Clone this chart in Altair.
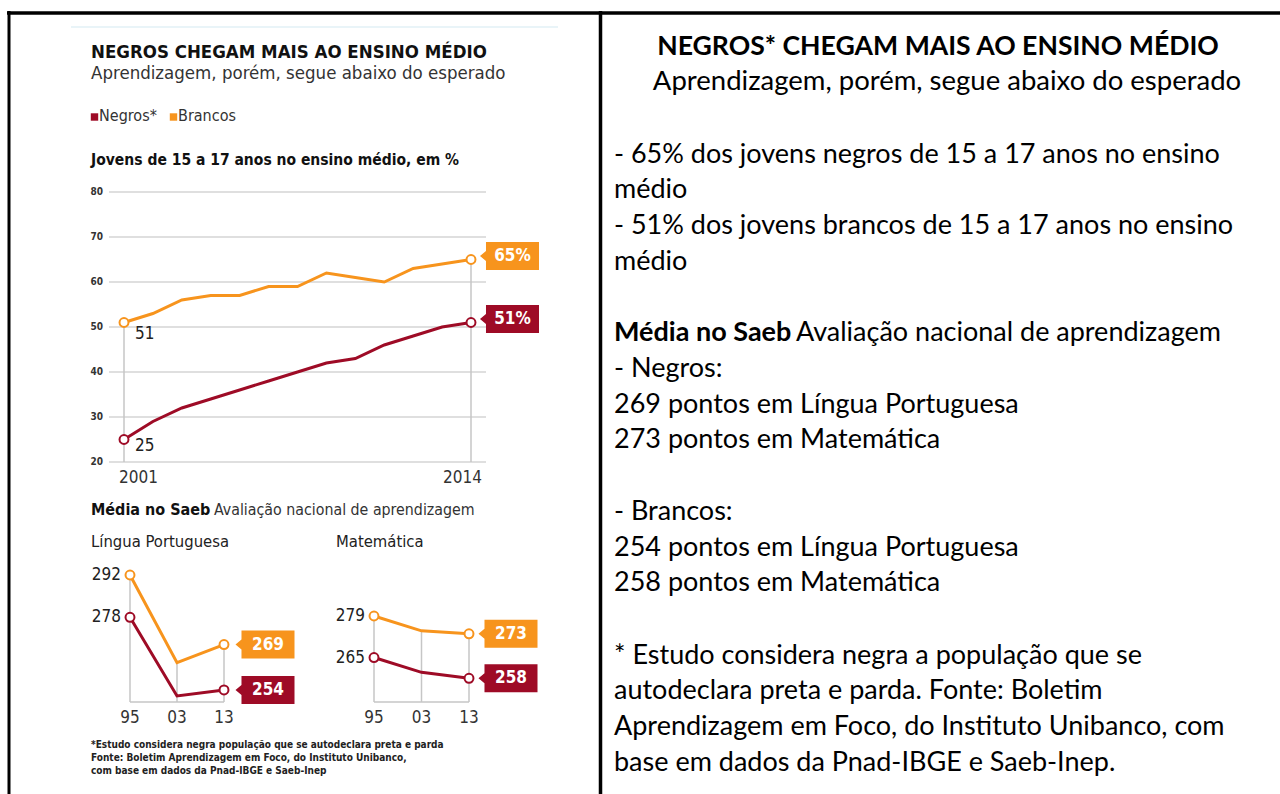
import altair as alt
import pandas as pd

# ---------------- data ----------------
years = ["2001", "2002", "2003", "2004", "2005", "2006", "2007",
         "2008", "2009", "2011", "2012", "2013", "2014"]
brancos_pct = [51, 53, 56, 57, 57, 59, 59, 62, 61, 60, 63, 64, 65]
negros_pct = [25, 29, 32, 34, 36, 38, 40, 42, 43, 46, 48, 50, 51]
pct_ticks = [20, 30, 40, 50, 60, 70, 80]

saeb_years = ["95", "03", "13"]
lp_brancos = [292, 263, 269]
lp_negros = [278, 252, 254]
mat_brancos = [279, 274, 273]
mat_negros = [265, 260, 258]
saeb_base = 250

groups = ["Negros", "Brancos"]
legend_labels = ["Negros*", "Brancos"]

left_title = "NEGROS CHEGAM MAIS AO ENSINO MÉDIO"
left_subtitle = "Aprendizagem, porém, segue abaixo do esperado"
top_chart_title = "Jovens de 15 a 17 anos no ensino médio, em %"
saeb_title = "Média no Saeb"
saeb_subtitle = "Avaliação nacional de aprendizagem"
lp_title = "Língua Portuguesa"
mat_title = "Matemática"
footnote = [
    "*Estudo considera negra população que se autodeclara preta e parda",
    "Fonte:  Boletim Aprendizagem em Foco, do Instituto Unibanco,",
    "com base em dados da Pnad-IBGE e Saeb-Inep",
]

right_title = "NEGROS* CHEGAM MAIS AO ENSINO MÉDIO"
right_subtitle = "Aprendizagem, porém, segue abaixo do esperado"
right_lines = [
    "- 65% dos jovens negros de 15 a 17 anos no ensino",
    "médio",
    "- 51% dos jovens brancos de 15 a 17 anos no ensino",
    "médio",
    None,  # bold/regular mixed line
    "- Negros:",
    "269 pontos em Língua Portuguesa",
    "273 pontos em Matemática",
    "- Brancos:",
    "254 pontos em Língua Portuguesa",
    "258 pontos em Matemática",
    "* Estudo considera negra a população que se",
    "autodeclara preta e parda. Fonte: Boletim",
    "Aprendizagem em Foco, do Instituto Unibanco, com",
    "base em dados da Pnad-IBGE e Saeb-Inep.",
]
right_y = [155, 190, 226, 262, 333, 369, 405, 440, 512, 548, 583, 656, 691, 727, 763]

# ---------------- styles ----------------
ORANGE = "#F7941D"
RED = "#9E0B26"
GRID = "#d4d4d4"
VGRAY = "#c6c6c6"
TXT = "#222222"
LFONT = "Liberation Sans Narrow, DejaVu Sans Condensed, Roboto, sans-serif"
RFONT = "Lato, sans-serif"
RSIZE = 27

color_scale = alt.Scale(domain=groups, range=[RED, ORANGE])
BOX = "M-1,0L-0.797,-0.17L-0.797,-0.475L1,-0.475L1,0.475L-0.797,0.475L-0.797,0.17Z"

layers = []


def one():
    return pd.DataFrame({"k": [0]})


def text(t, x, y, size, bold=False, align="left", color=TXT, font=LFONT):
    return alt.Chart(pd.DataFrame({"t": [t]})).mark_text(
        align=align, baseline="middle", fontSize=size,
        fontWeight="bold" if bold else "normal", font=font, color=color
    ).encode(x=alt.value(x), y=alt.value(y), text="t:N")


# ---------------- frame ----------------
layers.append(alt.Chart(one()).mark_rule(color="black", strokeWidth=3.5).encode(
    x=alt.value(7), x2=alt.value(1280), y=alt.value(13)))
layers.append(alt.Chart(one()).mark_rule(color="black", strokeWidth=3).encode(
    x=alt.value(9), y=alt.value(11), y2=alt.value(794)))
layers.append(alt.Chart(one()).mark_rule(color="black", strokeWidth=3.5).encode(
    x=alt.value(600.5), y=alt.value(11), y2=alt.value(794)))
layers.append(alt.Chart(one()).mark_rule(color="#d3eaf2", strokeWidth=1.2).encode(
    x=alt.value(71), x2=alt.value(558), y=alt.value(27)))

# ---------------- left headings ----------------
layers.append(text(left_title, 91, 52, 18.5, bold=True, color="#111111"))
layers.append(text(left_subtitle, 91, 73, 18.5, color="#333333"))

for i, (g, lab) in enumerate(zip(groups, legend_labels)):
    xs = [91, 170][i]
    layers.append(alt.Chart(pd.DataFrame({"g": [g]})).mark_square(size=55, opacity=1).encode(
        x=alt.value(xs + 3.5), y=alt.value(117),
        color=alt.Color("g:N", scale=color_scale, legend=None)))
    layers.append(text(lab, xs + 8, 116, 16, color="#333333"))

layers.append(text(top_chart_title, 91, 160, 15.5, bold=True, color="#111111"))

# ---------------- top chart ----------------
top_x = alt.Scale(type="point", domain=years, range=[124, 471], padding=0)
top_y = alt.Scale(domain=[20, 80], range=[462, 192], nice=False, zero=False)

ticks_df = pd.DataFrame({"v": pct_ticks})
layers.append(alt.Chart(ticks_df).mark_rule(color=GRID, strokeWidth=1.5).encode(
    y=alt.Y("v:Q", scale=top_y, axis=None), x=alt.value(109), x2=alt.value(486)))
layers.append(alt.Chart(ticks_df).mark_text(
    align="right", baseline="middle", fontSize=10, fontWeight="bold", font=LFONT, color="#333333"
).encode(y=alt.Y("v:Q", scale=top_y, axis=None), x=alt.value(103), text="v:Q"))

top_df = pd.DataFrame({
    "year": years * 2,
    "idx": list(range(len(years))) * 2,
    "value": negros_pct + brancos_pct,
    "g": ["Negros"] * len(years) + ["Brancos"] * len(years),
})
ends_idx = [0, len(years) - 1]
vr_df = pd.DataFrame({
    "year": [years[i] for i in ends_idx],
    "top": [brancos_pct[i] for i in ends_idx],
    "base": [pct_ticks[0]] * 2,
})
layers.append(alt.Chart(vr_df).mark_rule(color=VGRAY, strokeWidth=1.5).encode(
    x=alt.X("year:O", scale=top_x, axis=None),
    y=alt.Y("top:Q", scale=top_y, axis=None), y2="base:Q"))

layers.append(alt.Chart(top_df).mark_line(strokeWidth=3).encode(
    x=alt.X("year:O", scale=top_x, axis=None),
    y=alt.Y("value:Q", scale=top_y, axis=None),
    color=alt.Color("g:N", scale=color_scale, legend=None),
    order="idx:Q"))

ends_df = top_df[top_df["idx"].isin(ends_idx)].copy()
layers.append(alt.Chart(ends_df).mark_point(
    shape="circle", size=80, fill="white", strokeWidth=2, opacity=1, filled=False
).encode(
    x=alt.X("year:O", scale=top_x, axis=None),
    y=alt.Y("value:Q", scale=top_y, axis=None),
    stroke=alt.Color("g:N", scale=color_scale, legend=None)))

last_df = top_df[top_df["idx"] == len(years) - 1].copy()
last_df["lab"] = last_df["value"].astype(str) + "%"
layers.append(alt.Chart(last_df).mark_point(
    shape=BOX, size=3481, filled=True, opacity=1, xOffset=38.5, yOffset=-3.5
).encode(
    x=alt.X("year:O", scale=top_x, axis=None),
    y=alt.Y("value:Q", scale=top_y, axis=None),
    color=alt.Color("g:N", scale=color_scale, legend=None)))
layers.append(alt.Chart(last_df).mark_text(
    align="center", baseline="middle", fontSize=17, fontWeight="bold", font=LFONT,
    color="white", xOffset=41.5, yOffset=-3.5
).encode(
    x=alt.X("year:O", scale=top_x, axis=None),
    y=alt.Y("value:Q", scale=top_y, axis=None), text="lab:N"))

first_df = top_df[top_df["idx"] == 0].copy()
for g, yoff in [("Brancos", 11.5), ("Negros", 6.5)]:
    layers.append(alt.Chart(first_df[first_df["g"] == g]).mark_text(
        align="left", baseline="middle", fontSize=17, font=LFONT, color=TXT,
        xOffset=11, yOffset=yoff
    ).encode(
        x=alt.X("year:O", scale=top_x, axis=None),
        y=alt.Y("value:Q", scale=top_y, axis=None), text="value:Q"))

for i, al, xo in [(0, "left", -5), (len(years) - 1, "right", 11)]:
    layers.append(alt.Chart(pd.DataFrame({"year": [years[i]]})).mark_text(
        align=al, baseline="middle", fontSize=17, font=LFONT, color="#333333", xOffset=xo
    ).encode(x=alt.X("year:O", scale=top_x, axis=None), y=alt.value(478), text="year:N"))

# ---------------- Saeb headings ----------------
layers.append(text(saeb_title, 91, 510, 16, bold=True, color="#111111"))
layers.append(text(saeb_subtitle, 214, 510, 15.8, color="#333333"))
layers.append(text(lp_title, 91, 542, 16.5, color="#222222"))
layers.append(text(mat_title, 336, 542, 16.5, color="#222222"))


# ---------------- small charts ----------------
def small_chart(brancos, negros, xr, yr, ydom, box_off, txt_off):
    sx = alt.Scale(type="point", domain=saeb_years, range=xr, padding=0)
    sy = alt.Scale(domain=ydom, range=yr, nice=False, zero=False)
    out = []
    df = pd.DataFrame({
        "yr": saeb_years * 2,
        "idx": list(range(3)) * 2,
        "value": negros + brancos,
        "g": ["Negros"] * 3 + ["Brancos"] * 3,
    })
    vr = pd.DataFrame({"yr": saeb_years, "top": brancos, "base": [saeb_base] * 3})
    out.append(alt.Chart(vr).mark_rule(color=VGRAY, strokeWidth=1.5).encode(
        x=alt.X("yr:O", scale=sx, axis=None),
        y=alt.Y("top:Q", scale=sy, axis=None), y2="base:Q"))
    hb = pd.DataFrame({"a": [saeb_years[0]], "b": [saeb_years[-1]], "base": [saeb_base]})
    out.append(alt.Chart(hb).mark_rule(color=VGRAY, strokeWidth=1.5).encode(
        x=alt.X("a:O", scale=sx, axis=None), x2="b:O",
        y=alt.Y("base:Q", scale=sy, axis=None)))
    out.append(alt.Chart(df).mark_line(strokeWidth=3).encode(
        x=alt.X("yr:O", scale=sx, axis=None),
        y=alt.Y("value:Q", scale=sy, axis=None),
        color=alt.Color("g:N", scale=color_scale, legend=None),
        order="idx:Q"))
    ends = df[df["idx"].isin([0, 2])]
    out.append(alt.Chart(ends).mark_point(
        shape="circle", size=80, fill="white", strokeWidth=2, opacity=1, filled=False
    ).encode(
        x=alt.X("yr:O", scale=sx, axis=None),
        y=alt.Y("value:Q", scale=sy, axis=None),
        stroke=alt.Color("g:N", scale=color_scale, legend=None)))
    last = df[df["idx"] == 2]
    out.append(alt.Chart(last).mark_point(
        shape=BOX, size=3481, filled=True, opacity=1, xOffset=box_off
    ).encode(
        x=alt.X("yr:O", scale=sx, axis=None),
        y=alt.Y("value:Q", scale=sy, axis=None),
        color=alt.Color("g:N", scale=color_scale, legend=None)))
    out.append(alt.Chart(last).mark_text(
        align="center", baseline="middle", fontSize=17, fontWeight="bold", font=LFONT,
        color="white", xOffset=txt_off
    ).encode(
        x=alt.X("yr:O", scale=sx, axis=None),
        y=alt.Y("value:Q", scale=sy, axis=None), text="value:Q"))
    first = df[df["idx"] == 0]
    out.append(alt.Chart(first).mark_text(
        align="right", baseline="middle", fontSize=17, font=LFONT, color=TXT, xOffset=-9
    ).encode(
        x=alt.X("yr:O", scale=sx, axis=None),
        y=alt.Y("value:Q", scale=sy, axis=None), text="value:Q"))
    out.append(alt.Chart(pd.DataFrame({"yr": saeb_years})).mark_text(
        align="center", baseline="middle", fontSize=17, font=LFONT, color="#333333"
    ).encode(x=alt.X("yr:O", scale=sx, axis=None), y=alt.value(718), text="yr:N"))
    return out


layers += small_chart(lp_brancos, lp_negros, [130, 224], [702, 575], [saeb_base, 292], 41, 44)
layers += small_chart(mat_brancos, mat_negros, [374, 469], [702, 616], [saeb_base, 279], 39, 42)

for i, line in enumerate(footnote):
    layers.append(text(line, 91, 745 + 13 * i, 10, bold=True, color="#222222"))

# ---------------- right panel ----------------
layers.append(text(right_title, 938, 47, 26.6, bold=True, align="center", color="black", font=RFONT))
layers.append(text(right_subtitle, 947, 82, 27.5, align="center", color="black", font=RFONT))
for line, y in zip(right_lines, right_y):
    if line is None:
        layers.append(text(saeb_title, 614, y, RSIZE, bold=True, color="black", font=RFONT))
        layers.append(text(saeb_subtitle, 796, y, RSIZE, color="black", font=RFONT))
    else:
        layers.append(text(line, 614, y, RSIZE, color="black", font=RFONT))

chart = alt.layer(*layers).properties(
    width=1280, height=794, autosize=alt.AutoSizeParams(type="none"), padding=0,
    background="white"
).resolve_scale(x="independent", y="independent", color="shared").configure_view(stroke=None)

chart.save("out.html", embed_options={"renderer": "svg", "actions": False})
